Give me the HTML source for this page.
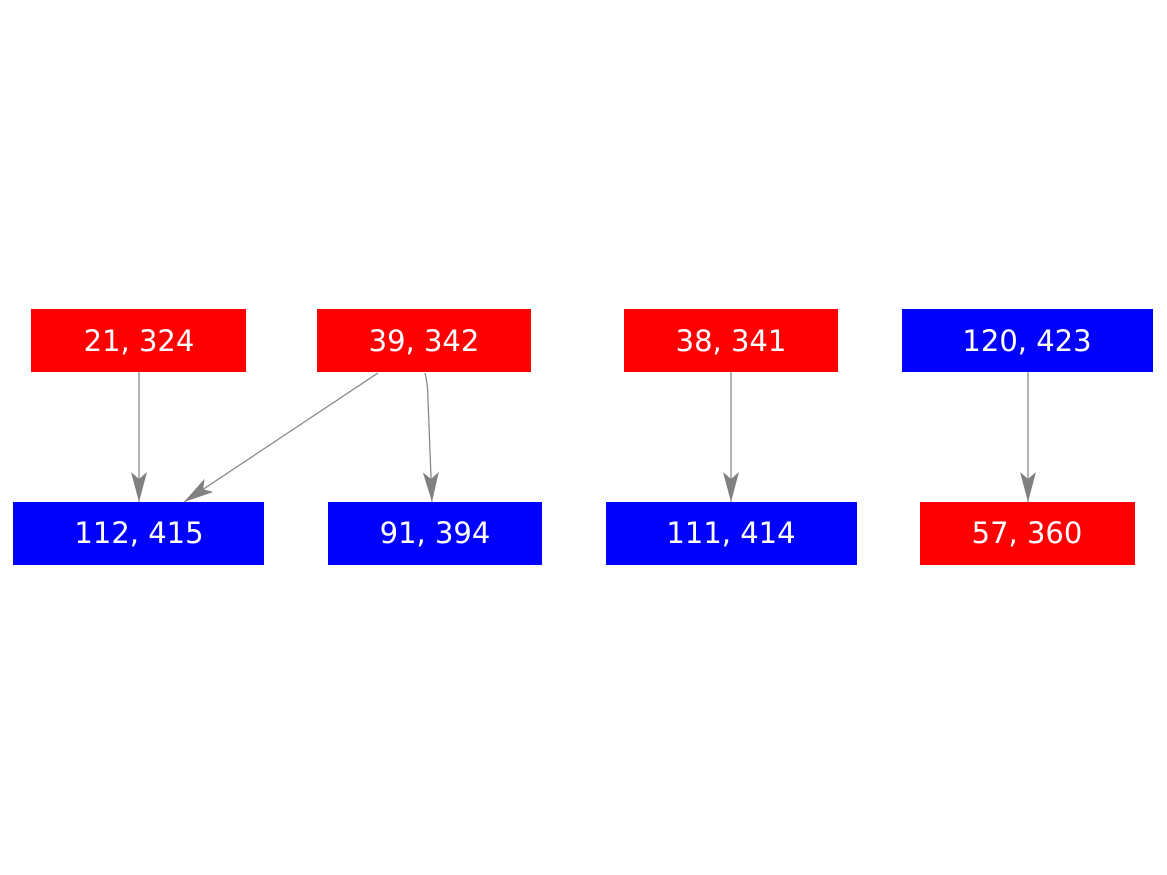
<!DOCTYPE html>
<html><head><style>
body{margin:0;background:#fff;}
svg{display:block}
text{font-family:"DejaVu Sans",sans-serif;font-size:29px;fill:#fff;text-anchor:middle;}
</style></head><body>
<svg width="1167" height="875" viewBox="0 0 1167 875">
<defs>
<marker id="a" markerWidth="32" markerHeight="18" refX="30" refY="9" orient="auto" markerUnits="userSpaceOnUse">
<path d="M0,1 L30,9 L0,17 L7,9 Z" fill="#808080"/>
</marker>
</defs>
<rect x="31" y="309" width="215" height="63" fill="#f00"/>
<rect x="317" y="309" width="214" height="63" fill="#f00"/>
<rect x="624" y="309" width="214" height="63" fill="#f00"/>
<rect x="902" y="309" width="251" height="63" fill="#00f"/>
<rect x="13" y="502" width="251" height="63" fill="#00f"/>
<rect x="328" y="502" width="214" height="63" fill="#00f"/>
<rect x="606" y="502" width="251" height="63" fill="#00f"/>
<rect x="920" y="502" width="215" height="63" fill="#f00"/>
<g stroke="#808080" stroke-width="1.2" fill="none" marker-end="url(#a)">
<line x1="139" y1="372" x2="139" y2="502"/>
<line x1="378" y1="373" x2="184" y2="502"/>
<path d="M425,373 Q428,385 428,400 L432,502"/>
<line x1="731" y1="372" x2="731" y2="502"/>
<line x1="1028" y1="372" x2="1028" y2="502"/>
</g>
<text x="139" y="351">21, 324</text>
<text x="424" y="351">39, 342</text>
<text x="731" y="351">38, 341</text>
<text x="1027" y="351">120, 423</text>
<text x="139" y="543">112, 415</text>
<text x="435" y="543">91, 394</text>
<text x="731" y="543">111, 414</text>
<text x="1027" y="543">57, 360</text>
</svg>
</body></html>
